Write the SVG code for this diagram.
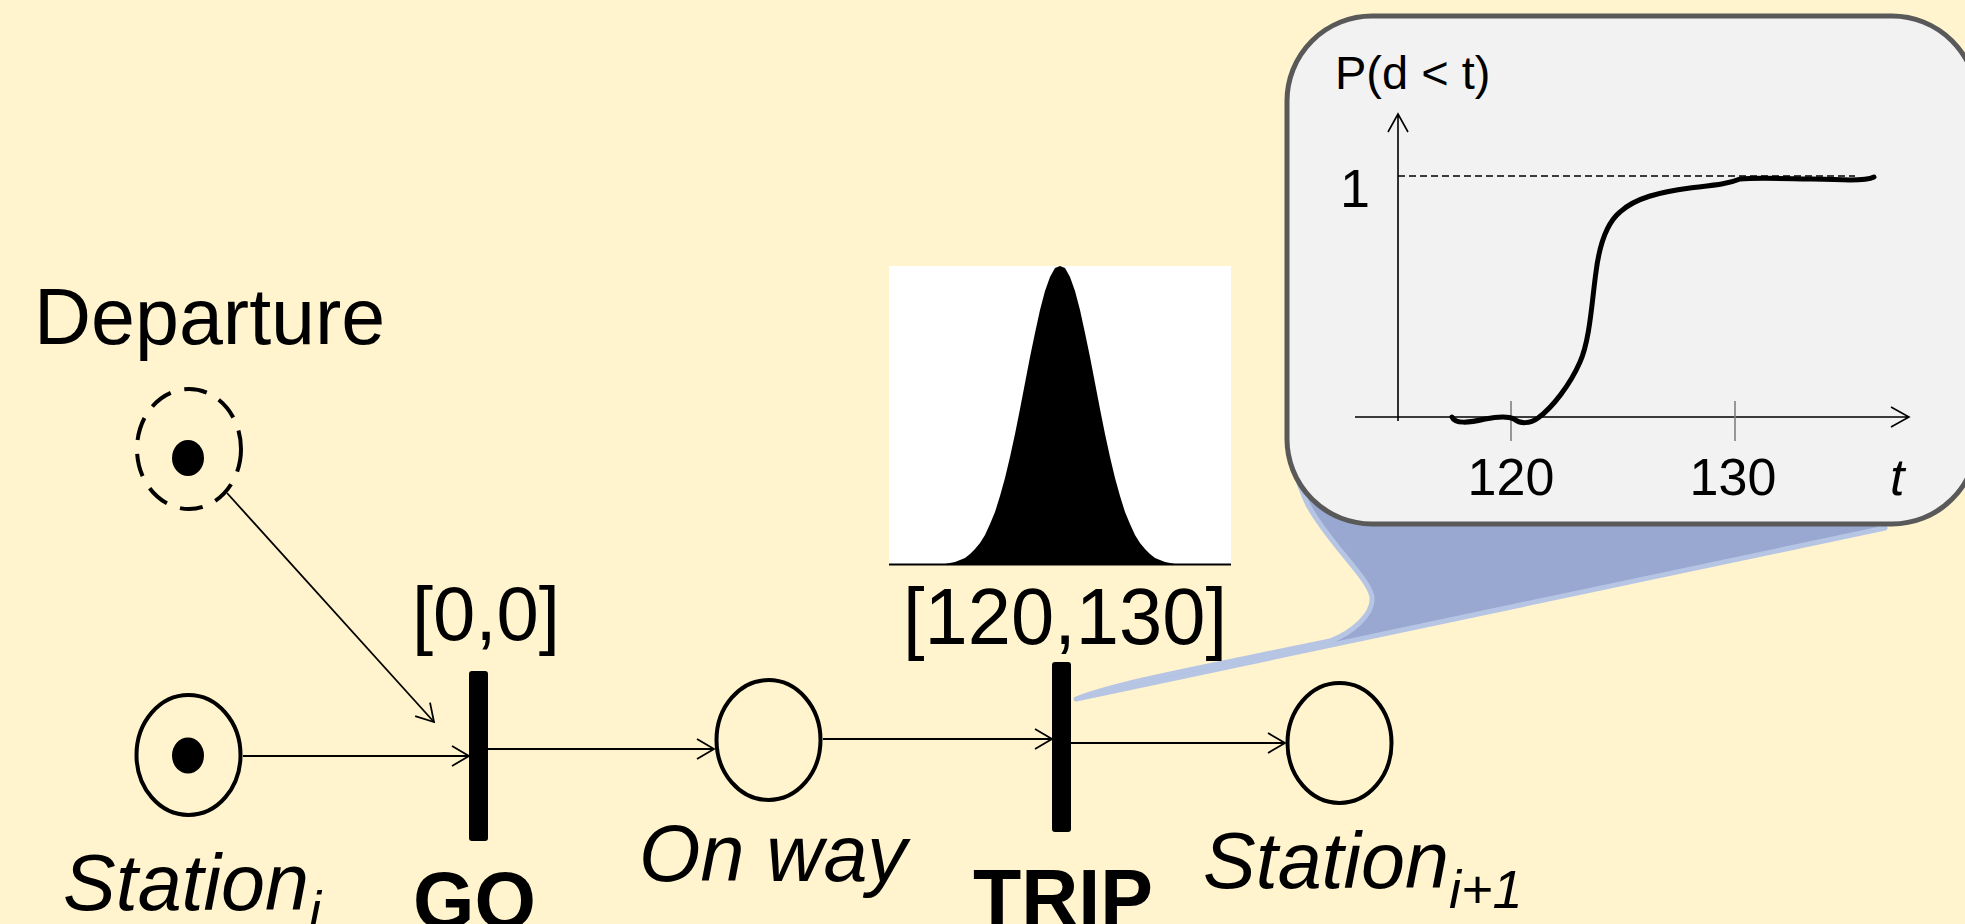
<svg xmlns="http://www.w3.org/2000/svg" width="1965" height="924" viewBox="0 0 1965 924">
  <style>
    .lbl { font-family: "Liberation Sans", Arial, sans-serif; fill: #000; }
    .it { font-style: italic; }
    .bd { font-weight: bold; }
    .place { fill: none; stroke: #000; stroke-width: 4; }
    .token { fill: #000; }
    .bar { fill: #000; }
    .arc { fill: none; stroke: #000; stroke-width: 1.8; marker-end: url(#open); }
    .axis { fill: none; stroke: #000; stroke-width: 1.6; }
    .tick { stroke: #7f7f7f; stroke-width: 1.6; }
  </style>
  <defs>
    <marker id="open" viewBox="-20 -12 22 24" refX="0" refY="0" markerWidth="22" markerHeight="24" markerUnits="userSpaceOnUse" orient="auto">
      <path d="M-17,-10 L0,0 L-17,10" fill="none" stroke="#000" stroke-width="1.8"/>
    </marker>
  </defs>

  <!-- background -->
  <rect x="0" y="0" width="1965" height="924" fill="#FFF4CD"/>

  <!-- callout tail pointing at TRIP -->
  <g id="callout-tail">
    <path d="M1076,699 C1120,682 1200,668 1330,641 C1352,633 1374,614 1372,597 C1369,578 1330,545 1308,505 C1296,480 1290,455 1288,430 L1700,430 L1885,528 Z" fill="#98A8D0" stroke="#B7C5E5" stroke-width="5" stroke-linejoin="round"/>
  </g>

  <!-- callout: cumulative distribution of the trip delay -->
  <g id="callout">
    <rect x="1287" y="16" width="690" height="508" rx="85" ry="85" fill="#F2F2F2" stroke="#595959" stroke-width="5"/>
    <text class="lbl" x="1335" y="89" font-size="47">P(d &lt; t)</text>
    <text class="lbl" x="1340" y="207" font-size="54">1</text>
    <line x1="1398" y1="176" x2="1855" y2="176" stroke="#000" stroke-width="1.6" stroke-dasharray="7 4"/>
    <path class="axis" d="M1398,421 L1398,114 M1388,132 L1398,114 L1408,132"/>
    <path class="axis" d="M1355,417 L1909,417 M1891,407 L1909,417 L1891,427"/>
    <line class="tick" x1="1511" y1="401" x2="1511" y2="441"/>
    <line class="tick" x1="1735" y1="401" x2="1735" y2="441"/>
    <path d="M1452,417 C1455,424 1468,423 1485,419 C1500,416 1508,416 1514,419 C1520,424 1530,424 1538,418 C1552,408 1570,385 1580,362 C1590,340 1592,300 1596,272 C1600,240 1608,222 1620,212 C1635,198 1660,192 1690,188 C1715,185 1728,184 1740,179 C1760,177 1800,179 1850,180 C1862,180 1870,179 1874,177" fill="none" stroke="#000" stroke-width="5" stroke-linecap="round"/>
    <text class="lbl" x="1511" y="495" font-size="52" text-anchor="middle">120</text>
    <text class="lbl" x="1733" y="495" font-size="52" text-anchor="middle">130</text>
    <text class="lbl it" x="1890" y="495" font-size="52">t</text>
  </g>

  <!-- delay density shown above TRIP -->
  <g id="density">
    <rect x="889" y="266" width="342" height="299" fill="#FFFFFF"/>
    <path d="M940,565 L940,564.5 945,564 950,563 955,562 960,560 965,558 970,554 975,549 980,543 985,535 990,524 995,512 1000,496 1005,478 1010,457 1015,434 1020,409 1025,383 1030,357 1035,333 1040,310 1045,291 1050,277 1055,268 1060,266 1065,268 1070,277 1075,291 1080,310 1085,333 1090,357 1095,383 1100,409 1105,434 1110,457 1115,478 1120,496 1125,512 1130,524 1135,535 1140,543 1145,549 1150,554 1155,558 1160,560 1165,562 1170,563 1175,564 1180,564.5 1180,565 Z" fill="#000"/>
    <line x1="889" y1="564.5" x2="1231" y2="564.5" stroke="#000" stroke-width="2"/>
  </g>

  <!-- places -->
  <g id="departure">
    <ellipse class="place" cx="189" cy="449" rx="52" ry="60" stroke-width="4.5" stroke-dasharray="23 14"/>
    <ellipse class="token" cx="188" cy="458" rx="16" ry="18"/>
    <text class="lbl" x="34" y="344" font-size="79">Departure</text>
  </g>

  <g id="station-i">
    <ellipse class="place" cx="188.5" cy="755" rx="52" ry="60"/>
    <ellipse class="token" cx="188" cy="755.5" rx="16" ry="18"/>
    <text class="lbl it" x="63" y="910" font-size="79">Station<tspan font-size="54" dy="19">i</tspan></text>
  </g>

  <g id="on-way">
    <ellipse class="place" cx="768.5" cy="740" rx="52" ry="60"/>
    <text class="lbl it" x="639" y="881" font-size="79">On way</text>
  </g>

  <g id="station-i1">
    <ellipse class="place" cx="1339.5" cy="743" rx="52" ry="60"/>
    <text class="lbl it" x="1203" y="888" font-size="79">Station<tspan font-size="54" dy="20">i+1</tspan></text>
  </g>

  <!-- transitions -->
  <g id="go">
    <rect class="bar" x="469" y="671" width="19" height="170" rx="3"/>
    <text class="lbl" x="412" y="640" font-size="76">[0,0]</text>
    <text class="lbl bd" x="413" y="928" font-size="79">GO</text>
  </g>

  <g id="trip">
    <rect class="bar" x="1052" y="662" width="19" height="170" rx="3"/>
    <text class="lbl" x="903" y="644" font-size="80" textLength="324" lengthAdjust="spacingAndGlyphs">[120,130]</text>
    <text class="lbl bd" x="973" y="925" font-size="79">TRIP</text>
  </g>

  <!-- arcs -->
  <g id="connectors">
    <line class="arc" x1="227" y1="493" x2="434" y2="722"/>
    <line class="arc" x1="243" y1="756" x2="469" y2="756"/>
    <line class="arc" x1="488" y1="749" x2="714" y2="749"/>
    <line class="arc" x1="823" y1="739" x2="1052" y2="739"/>
    <line class="arc" x1="1071" y1="743" x2="1285" y2="743"/>
  </g>
</svg>
